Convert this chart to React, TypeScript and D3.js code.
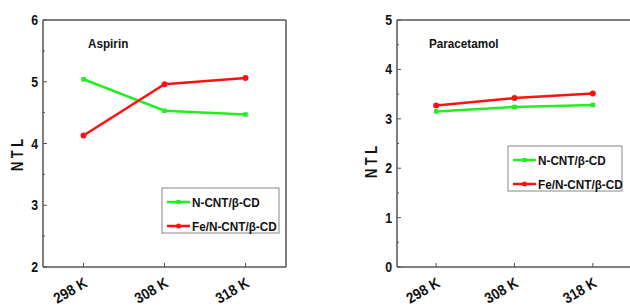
import React from "react";
import * as d3 from "d3";

const categories = ["298 K", "308 K", "318 K"];
const seriesNames = ["N-CNT/β-CD", "Fe/N-CNT/β-CD"];
const aspirinGreen = [5.04, 4.53, 4.47];
const aspirinRed = [4.13, 4.96, 5.06];
const paraGreen = [3.15, 3.24, 3.28];
const paraRed = [3.27, 3.42, 3.51];
const aspirinTicks = [2, 3, 4, 5, 6];
const paraTicks = [0, 1, 2, 3, 4, 5];

const GREEN = "#22ee22";
const RED = "#ff1111";
const AXIS = "#555";
const FONT = "'Liberation Sans', Arial, sans-serif";

type TProps = {
  x: number; y: number; size: number; sx?: number; rot?: number;
  anchor?: "start" | "middle" | "end"; bold?: boolean; children: React.ReactNode;
};
function T({ x, y, size, sx = 0.85, rot = 0, anchor = "start", bold = true, children }: TProps) {
  return (
    <text transform={`translate(${x},${y}) rotate(${rot}) scale(${sx},1)`} textAnchor={anchor}
      fontFamily={FONT} fontWeight={bold ? "bold" : "normal"} fontSize={size} fill="#111">{children}</text>
  );
}

type PanelProps = {
  x0: number; x1: number; y0: number; y1: number;
  domain: [number, number]; ticks: number[];
  green: number[]; red: number[];
  title: string; titleX: number; titleY: number;
  legendX: number; legendY: number; legendW: number;
  labelX: number; labelY: number;
  drawRight: boolean;
};

function Panel(p: PanelProps) {
  const x = d3.scalePoint<string>().domain(categories).range([p.x0, p.x1]).padding(0.5);
  const y = d3.scaleLinear().domain(p.domain).range([p.y1, p.y0]);
  const line = d3.line<number>().x((_, i) => x(categories[i])!).y((d) => y(d));
  const minor: number[] = [];
  for (let i = 0; i < p.ticks.length - 1; i++) minor.push((p.ticks[i] + p.ticks[i + 1]) / 2);
  const sq = 4.5;
  return (
    <g>
      <line x1={p.x0} x2={p.x0} y1={p.y0} y2={p.y1} stroke={AXIS} strokeWidth={1.5} />
      <line x1={p.x0} x2={p.x1} y1={p.y1} y2={p.y1} stroke={AXIS} strokeWidth={1.5} />
      <line x1={p.x0} x2={p.x1} y1={p.y0} y2={p.y0} stroke={AXIS} strokeWidth={1.5} />
      {p.drawRight && <line x1={p.x1} x2={p.x1} y1={p.y0} y2={p.y1} stroke={AXIS} strokeWidth={1.5} />}
      {p.ticks.map((t) => (
        <g key={"t" + t}>
          <line x1={p.x0} x2={p.x0 + 4} y1={y(t)} y2={y(t)} stroke={AXIS} strokeWidth={1} />
          <T x={p.x0 - 5} y={y(t) + 5} size={14} sx={0.88} anchor="end">{t}</T>
        </g>
      ))}
      {minor.map((t) => (
        <line key={"m" + t} x1={p.x0} x2={p.x0 + 2} y1={y(t)} y2={y(t)} stroke={AXIS} strokeWidth={1} />
      ))}
      {categories.map((c) => (
        <g key={c}>
          <line x1={x(c)!} x2={x(c)!} y1={p.y1} y2={p.y1 - 4} stroke={AXIS} strokeWidth={1} />
          <T x={x(c)! + 5} y={p.y1 + 19} size={15} sx={0.9} rot={-30} anchor="end">{c}</T>
        </g>
      ))}
      <T x={p.labelX} y={p.labelY} size={16} sx={0.8} rot={-90} anchor="middle">N T L</T>
      <T x={p.titleX} y={p.titleY} size={13} sx={0.9}>{p.title}</T>
      <path d={line(p.green) || ""} fill="none" stroke={GREEN} strokeWidth={2.5} />
      <path d={line(p.red) || ""} fill="none" stroke={RED} strokeWidth={2.5} />
      {p.green.map((v, i) => (
        <rect key={"g" + i} x={x(categories[i])! - sq / 2} y={y(v) - sq / 2} width={sq} height={sq} fill={GREEN} />
      ))}
      {p.red.map((v, i) => (
        <circle key={"r" + i} cx={x(categories[i])!} cy={y(v)} r={3} fill={RED} />
      ))}
      <rect x={p.legendX} y={p.legendY} width={p.legendW} height={45} fill="#fff" stroke="#888" strokeWidth={1} />
      {seriesNames.map((s, i) => {
        const ly = p.legendY + 14 + i * 24;
        const col = i === 0 ? GREEN : RED;
        return (
          <g key={s}>
            <line x1={p.legendX + 5} x2={p.legendX + 28} y1={ly} y2={ly} stroke={col} strokeWidth={2.5} />
            {i === 0 ? (
              <rect x={p.legendX + 16.5 - 2} y={ly - 2} width={4} height={4} fill={col} />
            ) : (
              <circle cx={p.legendX + 16.5} cy={ly} r={2.5} fill={col} />
            )}
            <T x={p.legendX + 30} y={ly + 5} size={13.5} sx={0.87} bold={true}>{s}</T>
          </g>
        );
      })}
    </g>
  );
}

export default function App() {
  return (
    <svg width={630} height={307} style={{ position: "absolute", left: 0, top: 0 }}>
      <rect width={630} height={307} fill="#fff" />
      <Panel x0={43} x1={286} y0={20} y1={267} domain={[2, 6]} ticks={aspirinTicks}
        green={aspirinGreen} red={aspirinRed} title="Aspirin" titleX={88} titleY={48}
        legendX={162} legendY={188} legendW={117} labelX={23} labelY={155} drawRight={true} />
      <Panel x0={397} x1={632} y0={20} y1={267} domain={[0, 5]} ticks={paraTicks}
        green={paraGreen} red={paraRed} title="Paracetamol" titleX={429} titleY={48}
        legendX={508} legendY={146} legendW={114} labelX={377} labelY={162} drawRight={false} />
    </svg>
  );
}
